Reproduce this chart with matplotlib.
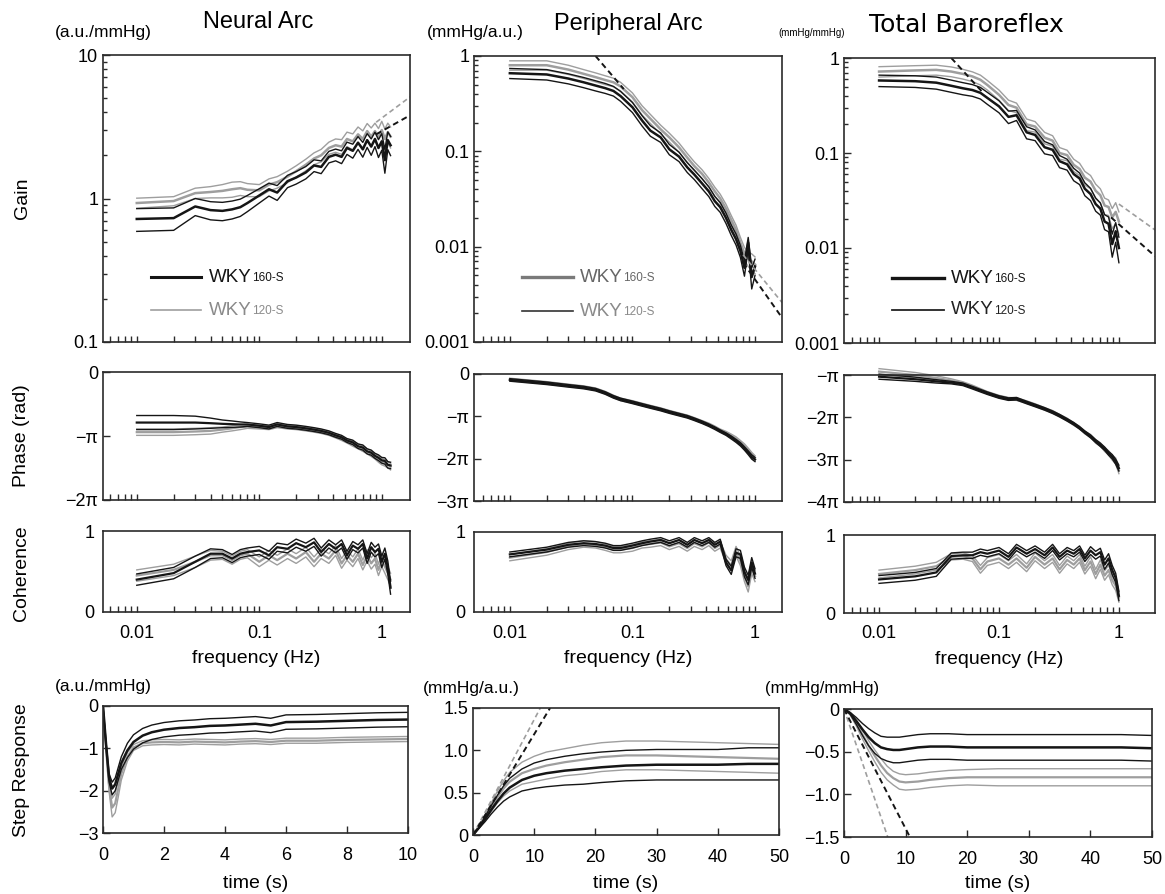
import numpy as np
import matplotlib
matplotlib.use("Agg")
import matplotlib.pyplot as plt
from matplotlib.ticker import FixedLocator, NullFormatter, NullLocator, FuncFormatter

plt.rcParams['font.family'] = ['Liberation Sans', 'DejaVu Sans']
plt.rcParams['axes.unicode_minus'] = True

W, H = 1165, 894
BLACK = '#151515'
GRAY = '#9e9e9e'

# ---------------- data ----------------
# Neural arc (frequency in Hz, gain a.u./mmHg, phase in units of pi)
f_na = [0.01, 0.02, 0.03, 0.04, 0.05, 0.06, 0.07, 0.08, 0.10, 0.12, 0.14, 0.17, 0.20, 0.24, 0.28, 0.32,
        0.37, 0.42, 0.47, 0.52, 0.58, 0.64, 0.70, 0.76, 0.82, 0.88, 0.94, 1.00, 1.06, 1.12, 1.18]
na_gain_160 = [0.72, 0.73, 0.88, 0.83, 0.82, 0.84, 0.87, 0.93, 1.05, 1.16, 1.10, 1.32, 1.40, 1.52, 1.70, 1.66,
               1.95, 2.02, 1.95, 2.25, 2.15, 2.45, 2.20, 2.55, 2.30, 2.60, 2.25, 2.50, 1.85, 2.55, 2.35]
na_gain_160_se = [0.13, 0.13, 0.12, 0.12, 0.12, 0.12, 0.12, 0.12, 0.12, 0.12, 0.13, 0.13, 0.14, 0.15, 0.16, 0.17,
                  0.18, 0.19, 0.20, 0.22, 0.24, 0.25, 0.26, 0.28, 0.30, 0.30, 0.32, 0.33, 0.35, 0.36, 0.36]
na_gain_120 = [0.93, 0.96, 1.09, 1.11, 1.13, 1.16, 1.18, 1.15, 1.14, 1.25, 1.30, 1.42, 1.55, 1.72, 1.90, 2.00,
               2.25, 2.35, 2.30, 2.60, 2.50, 2.80, 2.60, 2.95, 2.70, 2.95, 2.65, 3.00, 2.60, 2.90, 2.70]
na_gain_120_se = [0.075, 0.07, 0.09, 0.10, 0.12, 0.14, 0.13, 0.12, 0.11, 0.12, 0.12, 0.13, 0.14, 0.16, 0.18, 0.20,
                  0.22, 0.25, 0.27, 0.30, 0.32, 0.35, 0.36, 0.38, 0.40, 0.40, 0.42, 0.45, 0.45, 0.45, 0.45]
na_phase_160 = [-0.79, -0.79, -0.79, -0.80, -0.81, -0.815, -0.82, -0.82, -0.84, -0.86, -0.82, -0.85, -0.86, -0.88,
                -0.90, -0.92, -0.95, -0.99, -1.02, -1.07, -1.10, -1.16, -1.18, -1.24, -1.26, -1.31, -1.34, -1.38,
                -1.39, -1.45, -1.46]
na_phase_160_se = [0.11, 0.11, 0.10, 0.08, 0.06, 0.05, 0.04, 0.03, 0.03, 0.03, 0.03, 0.03, 0.03, 0.03, 0.03, 0.03,
                   0.03, 0.03, 0.03, 0.03, 0.035, 0.035, 0.04, 0.04, 0.04, 0.04, 0.045, 0.045, 0.05, 0.05, 0.05]
na_phase_120 = [-0.94, -0.94, -0.93, -0.92, -0.90, -0.88, -0.86, -0.85, -0.86, -0.87, -0.84, -0.86, -0.87, -0.89,
                -0.91, -0.93, -0.96, -1.00, -1.04, -1.08, -1.12, -1.16, -1.20, -1.24, -1.28, -1.32, -1.36, -1.40,
                -1.42, -1.45, -1.48]
na_phase_120_se = [0.05, 0.05, 0.05, 0.05, 0.04, 0.04, 0.04, 0.03, 0.03, 0.03, 0.03, 0.03, 0.03, 0.03, 0.03, 0.03,
                   0.03, 0.03, 0.03, 0.03, 0.04, 0.04, 0.04, 0.04, 0.04, 0.04, 0.05, 0.05, 0.05, 0.05, 0.05]
na_coh_160 = [0.40, 0.48, 0.62, 0.72, 0.72, 0.66, 0.72, 0.74, 0.76, 0.70, 0.80, 0.78, 0.85, 0.80, 0.86, 0.74,
              0.84, 0.78, 0.84, 0.70, 0.82, 0.78, 0.84, 0.66, 0.80, 0.74, 0.78, 0.62, 0.72, 0.55, 0.30]
na_coh_160_se = [0.07, 0.07, 0.07, 0.06, 0.05, 0.05, 0.05, 0.05, 0.05, 0.05, 0.05, 0.05, 0.05, 0.05, 0.05, 0.05,
                 0.05, 0.05, 0.05, 0.05, 0.05, 0.05, 0.05, 0.06, 0.06, 0.06, 0.06, 0.07, 0.07, 0.08, 0.08]
na_coh_120 = [0.45, 0.52, 0.62, 0.70, 0.70, 0.64, 0.70, 0.72, 0.62, 0.70, 0.64, 0.72, 0.66, 0.74, 0.62, 0.72,
              0.66, 0.76, 0.60, 0.70, 0.62, 0.72, 0.58, 0.70, 0.60, 0.66, 0.52, 0.64, 0.56, 0.48, 0.40]
na_coh_120_se = [0.07, 0.07, 0.07, 0.06, 0.05, 0.05, 0.05, 0.05, 0.06, 0.06, 0.06, 0.06, 0.06, 0.06, 0.06, 0.06,
                 0.06, 0.06, 0.06, 0.06, 0.06, 0.06, 0.06, 0.07, 0.07, 0.07, 0.07, 0.08, 0.08, 0.08, 0.08]
na_fit_f = [0.9, 1.7]
na_fit_160 = [2.8, 3.8]
na_fit_120 = [3.4, 5.1]

# Peripheral arc
f_pa = [0.01, 0.02, 0.03, 0.04, 0.05, 0.06, 0.07, 0.08, 0.10, 0.12, 0.14, 0.17, 0.20, 0.24, 0.28, 0.32,
        0.37, 0.42, 0.47, 0.52, 0.58, 0.64, 0.70, 0.76, 0.82, 0.88, 0.94, 1.00]
pa_gain_160 = [0.66, 0.64, 0.58, 0.53, 0.49, 0.46, 0.43, 0.38, 0.29, 0.21, 0.165, 0.14, 0.105, 0.088, 0.068, 0.057,
               0.046, 0.038, 0.030, 0.026, 0.020, 0.0150, 0.0120, 0.0090, 0.0060, 0.0110, 0.0048, 0.0062]
pa_gain_160_se = [0.08, 0.08, 0.07, 0.065, 0.06, 0.055, 0.05, 0.045, 0.035, 0.026, 0.021, 0.016, 0.013, 0.010,
                  0.008, 0.0065, 0.0055, 0.0045, 0.0036, 0.0031, 0.0025, 0.0019, 0.0016, 0.0013, 0.0011, 0.0015,
                  0.0012, 0.0012]
pa_gain_120 = [0.80, 0.80, 0.72, 0.65, 0.60, 0.56, 0.53, 0.48, 0.37, 0.27, 0.22, 0.17, 0.14, 0.11, 0.086, 0.070,
               0.058, 0.047, 0.038, 0.032, 0.025, 0.019, 0.015, 0.011, 0.0085, 0.0075, 0.0070, 0.0065]
pa_gain_120_se = [0.09, 0.09, 0.08, 0.07, 0.065, 0.06, 0.055, 0.05, 0.04, 0.03, 0.024, 0.018, 0.015, 0.012,
                  0.009, 0.0075, 0.006, 0.005, 0.004, 0.0035, 0.0028, 0.0022, 0.0018, 0.0015, 0.0013, 0.0013,
                  0.0014, 0.0013]
pa_phase_160 = [-0.14, -0.22, -0.28, -0.32, -0.37, -0.45, -0.54, -0.60, -0.67, -0.73, -0.78, -0.84, -0.90, -0.96,
                -1.01, -1.07, -1.14, -1.21, -1.28, -1.35, -1.42, -1.50, -1.58, -1.66, -1.76, -1.86, -1.96, -2.02]
pa_phase_160_se = [0.03, 0.03, 0.03, 0.03, 0.03, 0.03, 0.03, 0.03, 0.03, 0.03, 0.03, 0.03, 0.03, 0.03,
                   0.03, 0.03, 0.03, 0.03, 0.03, 0.03, 0.03, 0.035, 0.035, 0.04, 0.04, 0.045, 0.05, 0.05]
pa_phase_120 = [-0.13, -0.21, -0.27, -0.31, -0.36, -0.44, -0.53, -0.60, -0.66, -0.72, -0.77, -0.83, -0.89, -0.95,
                -1.00, -1.06, -1.13, -1.19, -1.26, -1.33, -1.39, -1.46, -1.53, -1.62, -1.70, -1.80, -1.90, -1.98]
pa_phase_120_se = [0.03, 0.03, 0.03, 0.03, 0.03, 0.03, 0.03, 0.03, 0.03, 0.03, 0.03, 0.03, 0.03, 0.03,
                   0.03, 0.03, 0.03, 0.03, 0.03, 0.03, 0.035, 0.04, 0.045, 0.05, 0.05, 0.05, 0.05, 0.05]
pa_coh_160 = [0.72, 0.78, 0.84, 0.86, 0.85, 0.83, 0.80, 0.80, 0.83, 0.86, 0.88, 0.90, 0.86, 0.90, 0.84, 0.90,
              0.86, 0.90, 0.84, 0.88, 0.62, 0.52, 0.74, 0.72, 0.50, 0.40, 0.62, 0.48]
pa_coh_160_se = [0.03, 0.03, 0.03, 0.03, 0.03, 0.03, 0.03, 0.03, 0.03, 0.03, 0.03, 0.03, 0.03, 0.03,
                 0.03, 0.03, 0.03, 0.03, 0.03, 0.03, 0.04, 0.05, 0.05, 0.05, 0.06, 0.06, 0.06, 0.06]
pa_coh_120 = [0.68, 0.75, 0.82, 0.85, 0.84, 0.81, 0.78, 0.78, 0.80, 0.84, 0.85, 0.87, 0.82, 0.86, 0.80, 0.86,
              0.82, 0.87, 0.80, 0.84, 0.66, 0.58, 0.76, 0.64, 0.45, 0.32, 0.55, 0.45]
pa_coh_120_se = [0.04, 0.04, 0.04, 0.04, 0.04, 0.04, 0.04, 0.04, 0.04, 0.04, 0.04, 0.04, 0.04, 0.04,
                 0.04, 0.04, 0.04, 0.04, 0.04, 0.04, 0.05, 0.06, 0.06, 0.06, 0.07, 0.07, 0.07, 0.07]
pa_fit_lo_f = [0.05, 0.085]
pa_fit_lo = [1.0, 0.45]
pa_fit_hi_f = [0.8, 1.66]
pa_fit_hi_160 = [0.0068, 0.0018]
pa_fit_hi_120 = [0.0082, 0.0026]

# Total baroreflex
f_ta = f_pa
ta_gain_160 = [0.58, 0.57, 0.55, 0.51, 0.48, 0.46, 0.43, 0.38, 0.31, 0.24, 0.25, 0.165, 0.155, 0.115, 0.108, 0.082,
               0.076, 0.060, 0.054, 0.042, 0.037, 0.029, 0.026, 0.019, 0.018, 0.011, 0.015, 0.010]
ta_gain_160_se = [0.08, 0.08, 0.08, 0.075, 0.07, 0.065, 0.06, 0.055, 0.045, 0.036, 0.03, 0.024, 0.02, 0.017,
                  0.014, 0.012, 0.01, 0.009, 0.0075, 0.0065, 0.0055, 0.0046, 0.0038, 0.0034, 0.0032, 0.0030,
                  0.0035, 0.0030]
ta_gain_120 = [0.72, 0.74, 0.75, 0.72, 0.68, 0.64, 0.59, 0.52, 0.41, 0.32, 0.30, 0.20, 0.19, 0.145, 0.135, 0.10,
               0.095, 0.075, 0.068, 0.055, 0.050, 0.040, 0.036, 0.028, 0.027, 0.021, 0.024, 0.019]
ta_gain_120_se = [0.09, 0.09, 0.09, 0.085, 0.08, 0.075, 0.07, 0.06, 0.05, 0.04, 0.035, 0.028, 0.024, 0.02,
                  0.017, 0.014, 0.012, 0.011, 0.01, 0.009, 0.008, 0.007, 0.006, 0.0055, 0.005, 0.005, 0.006, 0.005]
ta_phase_160 = [-1.04, -1.10, -1.15, -1.18, -1.22, -1.30, -1.37, -1.43, -1.52, -1.57, -1.56, -1.65, -1.72, -1.80,
                -1.88, -1.96, -2.06, -2.15, -2.25, -2.35, -2.45, -2.56, -2.65, -2.74, -2.85, -2.93, -3.05, -3.20]
ta_phase_160_se = [0.06, 0.05, 0.04, 0.03, 0.03, 0.03, 0.03, 0.03, 0.03, 0.03, 0.03, 0.03, 0.03, 0.03,
                   0.03, 0.03, 0.03, 0.03, 0.03, 0.03, 0.035, 0.035, 0.04, 0.04, 0.045, 0.05, 0.06, 0.07]
ta_phase_120 = [-0.92, -1.00, -1.07, -1.13, -1.19, -1.27, -1.35, -1.42, -1.51, -1.56, -1.57, -1.64, -1.71, -1.80,
                -1.87, -1.96, -2.05, -2.16, -2.24, -2.36, -2.44, -2.57, -2.64, -2.76, -2.84, -2.95, -3.03, -3.25]
ta_phase_120_se = [0.07, 0.06, 0.05, 0.04, 0.03, 0.03, 0.03, 0.03, 0.03, 0.03, 0.03, 0.03, 0.03, 0.03,
                   0.03, 0.03, 0.03, 0.03, 0.03, 0.03, 0.035, 0.04, 0.04, 0.045, 0.05, 0.06, 0.07, 0.08]
ta_coh_160 = [0.43, 0.47, 0.52, 0.73, 0.74, 0.74, 0.78, 0.76, 0.80, 0.72, 0.84, 0.76, 0.82, 0.74, 0.84, 0.72,
              0.80, 0.76, 0.82, 0.70, 0.80, 0.74, 0.78, 0.62, 0.70, 0.55, 0.45, 0.22]
ta_coh_160_se = [0.05, 0.05, 0.05, 0.04, 0.04, 0.04, 0.04, 0.04, 0.04, 0.04, 0.04, 0.04, 0.04, 0.04,
                 0.04, 0.04, 0.04, 0.04, 0.04, 0.04, 0.05, 0.05, 0.05, 0.06, 0.06, 0.06, 0.06, 0.06]
ta_coh_120 = [0.50, 0.55, 0.60, 0.72, 0.73, 0.70, 0.56, 0.66, 0.70, 0.62, 0.70, 0.58, 0.72, 0.62, 0.70, 0.56,
              0.68, 0.62, 0.70, 0.55, 0.66, 0.50, 0.62, 0.48, 0.55, 0.42, 0.35, 0.20]
ta_coh_120_se = [0.05, 0.05, 0.05, 0.04, 0.04, 0.04, 0.05, 0.05, 0.05, 0.05, 0.05, 0.05, 0.05, 0.05,
                 0.05, 0.05, 0.05, 0.05, 0.05, 0.05, 0.06, 0.06, 0.06, 0.06, 0.06, 0.06, 0.06, 0.06]
ta_fit_lo_f = [0.04, 0.075]
ta_fit_lo = [1.0, 0.42]
ta_fit_hi_f_160 = [0.86, 2.0]
ta_fit_hi_160 = [0.021, 0.0082]
ta_fit_hi_f_120 = [1.0, 2.0]
ta_fit_hi_120 = [0.029, 0.0155]

# Step responses
t_na = [0, 0.1, 0.2, 0.3, 0.4, 0.5, 0.6, 0.8, 1.0, 1.3, 1.6, 2.0, 2.5, 3.0, 3.5, 4.0, 4.5, 5.0, 5.5, 6.0,
        7.0, 8.0, 9.0, 10.0]
na_step_160 = [0, -0.9, -1.7, -1.95, -1.85, -1.6, -1.35, -1.05, -0.85, -0.70, -0.62, -0.56, -0.52, -0.50,
               -0.47, -0.46, -0.44, -0.42, -0.46, -0.38, -0.37, -0.35, -0.33, -0.32]
na_step_160_se = [0, 0.05, 0.10, 0.15, 0.15, 0.15, 0.15, 0.17, 0.17, 0.17, 0.17, 0.17, 0.17, 0.17,
                  0.17, 0.17, 0.17, 0.17, 0.17, 0.17, 0.17, 0.17, 0.17, 0.17]
na_step_120 = [0, -1.0, -1.9, -2.4, -2.3, -1.95, -1.6, -1.2, -0.98, -0.88, -0.86, -0.85, -0.86, -0.84,
               -0.85, -0.86, -0.84, -0.83, -0.85, -0.82, -0.82, -0.80, -0.79, -0.78]
na_step_120_se = [0, 0.05, 0.12, 0.22, 0.22, 0.20, 0.15, 0.10, 0.07, 0.06, 0.06, 0.06, 0.06, 0.06,
                  0.06, 0.06, 0.06, 0.06, 0.06, 0.06, 0.06, 0.06, 0.06, 0.06]

t_pa = [0, 1, 2, 3, 4, 5, 6, 8, 10, 12, 15, 18, 21, 25, 30, 35, 40, 45, 50]
pa_step_160 = [0, 0.09, 0.19, 0.30, 0.40, 0.49, 0.56, 0.65, 0.70, 0.73, 0.76, 0.78, 0.80, 0.82, 0.83, 0.83,
               0.83, 0.84, 0.84]
pa_step_160_se = [0, 0.01, 0.03, 0.05, 0.07, 0.09, 0.11, 0.13, 0.15, 0.16, 0.17, 0.18, 0.18, 0.18, 0.18, 0.18,
                  0.18, 0.19, 0.19]
pa_step_120 = [0, 0.10, 0.21, 0.33, 0.45, 0.55, 0.63, 0.73, 0.78, 0.82, 0.86, 0.89, 0.92, 0.94, 0.94, 0.93,
               0.92, 0.91, 0.90]
pa_step_120_se = [0, 0.01, 0.03, 0.05, 0.07, 0.09, 0.11, 0.13, 0.15, 0.16, 0.16, 0.17, 0.17, 0.17, 0.17, 0.17,
                  0.17, 0.17, 0.17]
pa_step_fit_160 = ([0, 12.6], [0, 1.5])
pa_step_fit_120 = ([0, 11.0], [0, 1.5])

t_ta = [0, 1, 2, 3, 4, 5, 6, 7, 8, 9, 10, 12, 14, 17, 20, 25, 30, 35, 40, 45, 50]
ta_step_160 = [0, -0.05, -0.14, -0.24, -0.33, -0.40, -0.45, -0.47, -0.48, -0.48, -0.47, -0.45, -0.44, -0.44,
               -0.45, -0.45, -0.45, -0.45, -0.45, -0.45, -0.46]
ta_step_160_se = [0, 0.01, 0.04, 0.07, 0.10, 0.12, 0.13, 0.14, 0.15, 0.15, 0.15, 0.15, 0.15, 0.15, 0.15,
                  0.15, 0.15, 0.15, 0.15, 0.15, 0.15]
ta_step_120 = [0, -0.06, -0.17, -0.30, -0.43, -0.55, -0.66, -0.75, -0.81, -0.85, -0.86, -0.85, -0.83, -0.81,
               -0.80, -0.80, -0.80, -0.80, -0.80, -0.80, -0.80]
ta_step_120_se = [0, 0.01, 0.03, 0.05, 0.06, 0.07, 0.08, 0.08, 0.08, 0.09, 0.09, 0.09, 0.09, 0.09, 0.09,
                  0.10, 0.10, 0.10, 0.10, 0.10, 0.10]
ta_step_fit_160 = ([0, 10.7], [0, -1.5])
ta_step_fit_120 = ([0, 7.1], [0, -1.5])

# ---------------- figure ----------------
fig = plt.figure(figsize=(W / 100, H / 100), dpi=100)
fig.patch.set_facecolor('white')

TICK_FS = 13
LAB_FS = 14


def add_ax(x0, y0, x1, y1):
    ax = fig.add_axes([x0 / W, 1 - y1 / H, (x1 - x0) / W, (y1 - y0) / H])
    for s in ax.spines.values():
        s.set_color('#2a2a2a')
        s.set_linewidth(1.2)
    ax.tick_params(which='both', direction='in', top=False, right=False,
                   labelsize=TICK_FS, color='#2a2a2a', width=1.0)
    ax.tick_params(which='major', length=5)
    ax.tick_params(which='minor', length=3)
    return ax


def bands(ax, x, mean, se, color, lw_mean=1.8, lw_se=1.0, clip=True, z=2):
    m = np.asarray(mean, dtype=float)
    s = np.asarray(se, dtype=float)
    for y, lw in ((m + s, lw_se), (m - s, lw_se), (m, lw_mean)):
        ax.plot(x, y, color=color, lw=lw, clip_on=clip, zorder=z)


freq_ticks = [k * d for d in (0.001, 0.01, 0.1) for k in range(1, 10)] + [1.0]
freq_ticks = [v for v in freq_ticks if v >= 0.0059]


def freq_axis(ax, xlim, labels):
    ax.set_xscale('log')
    ax.set_xlim(*xlim)
    ax.xaxis.set_major_locator(FixedLocator(freq_ticks))
    ax.xaxis.set_minor_locator(NullLocator())
    ax.tick_params(axis='x', which='major', length=4, pad=9)
    if labels:
        ax.xaxis.set_major_formatter(FuncFormatter(
            lambda v, p: {0.01: '0.01', 0.1: '0.1', 1.0: '1'}.get(round(v, 4), '')))
        ax.set_xlabel('frequency (Hz)', fontsize=LAB_FS, labelpad=6)
    else:
        ax.xaxis.set_major_formatter(NullFormatter())


def gain_axis(ax, ylim, ticks, labels):
    ax.set_yscale('log')
    ax.set_ylim(*ylim)
    ax.set_yticks(ticks)
    ax.set_yticklabels(labels)
    ax.yaxis.set_minor_formatter(NullFormatter())


def legend(ax, entries):
    for k, (y, lcol, lw, tcol) in enumerate(entries):
        ax.plot([0.155, 0.32], [y, y], transform=ax.transAxes, color=lcol, lw=lw, clip_on=False)
        t = ax.text(0.345, y, 'WKY', transform=ax.transAxes, fontsize=13.5, color=tcol,
                    va='center', ha='left')
        sub = '160-S' if k == 0 else '120-S'
        ax.annotate(sub, xy=(1.0, 0.08), xycoords=t, fontsize=8.5, color=tcol, va='bottom', ha='left')


cols = [
    dict(x0=103, x1=410, gy=(55, 342), py=(372, 500), cy=(531, 612), sx=(103, 408), sy=(706, 833),
         xlim=(0.0053, 1.7)),
    dict(x0=474, x1=782, gy=(56, 342), py=(374, 501), cy=(532, 612), sx=(473, 779), sy=(708, 835),
         xlim=(0.0051, 1.66)),
    dict(x0=844, x1=1155, gy=(58, 343), py=(375, 502), cy=(535, 613), sx=(844, 1152), sy=(709, 837),
         xlim=(0.0051, 2.0)),
]

# ---- gain row ----
c = cols[0]
ax = add_ax(c['x0'], c['gy'][0], c['x1'], c['gy'][1])
bands(ax, f_na, na_gain_120, na_gain_120_se, GRAY)
bands(ax, f_na, na_gain_160, na_gain_160_se, BLACK)
ax.plot(na_fit_f, na_fit_120, color=GRAY, lw=1.2, ls=(0, (3, 2)))
ax.plot(na_fit_f, na_fit_160, color=BLACK, lw=1.4, ls=(0, (3, 2)))
freq_axis(ax, c['xlim'], False)
gain_axis(ax, (0.1, 10), [0.1, 1, 10], ['0.1', '1', '10'])
legend(ax, [(0.226, BLACK, 2.2, BLACK), (0.111, GRAY, 1.2, '#8a8a8a')])

c = cols[1]
ax = add_ax(c['x0'], c['gy'][0], c['x1'], c['gy'][1])
bands(ax, f_pa, pa_gain_120, pa_gain_120_se, GRAY)
bands(ax, f_pa, pa_gain_160, pa_gain_160_se, BLACK)
ax.plot(pa_fit_lo_f, pa_fit_lo, color=BLACK, lw=1.4, ls=(0, (3, 2)))
ax.plot(pa_fit_hi_f, pa_fit_hi_120, color=GRAY, lw=1.2, ls=(0, (3, 2)))
ax.plot(pa_fit_hi_f, pa_fit_hi_160, color=BLACK, lw=1.4, ls=(0, (3, 2)))
freq_axis(ax, c['xlim'], False)
gain_axis(ax, (0.001, 1), [0.001, 0.01, 0.1, 1], ['0.001', '0.01', '0.1', '1'])
legend(ax, [(0.227, '#7a7a7a', 2.4, '#666666'), (0.108, '#333333', 1.2, '#8a8a8a')])

c = cols[2]
ax = add_ax(c['x0'], c['gy'][0], c['x1'], c['gy'][1])
bands(ax, f_ta, ta_gain_120, ta_gain_120_se, GRAY)
bands(ax, f_ta, ta_gain_160, ta_gain_160_se, BLACK)
ax.plot(ta_fit_lo_f, ta_fit_lo, color=BLACK, lw=1.4, ls=(0, (3, 2)))
ax.plot(ta_fit_hi_f_120, ta_fit_hi_120, color=GRAY, lw=1.2, ls=(0, (3, 2)))
ax.plot(ta_fit_hi_f_160, ta_fit_hi_160, color=BLACK, lw=1.4, ls=(0, (3, 2)))
freq_axis(ax, c['xlim'], False)
gain_axis(ax, (0.001, 1), [0.001, 0.01, 0.1, 1], ['0.001', '0.01', '0.1', '1'])
legend(ax, [(0.228, BLACK, 2.4, BLACK), (0.116, '#222222', 1.3, '#222222')])

# ---- phase row ----
phase_specs = [
    (f_na, na_phase_160, na_phase_160_se, na_phase_120, na_phase_120_se, (-2, 0), [0, -1, -2],
     ['0', '\u2212\u03c0', '\u22122\u03c0']),
    (f_pa, pa_phase_160, pa_phase_160_se, pa_phase_120, pa_phase_120_se, (-3, 0), [0, -1, -2, -3],
     ['0', '\u2212\u03c0', '\u22122\u03c0', '\u22123\u03c0']),
    (f_ta, ta_phase_160, ta_phase_160_se, ta_phase_120, ta_phase_120_se, (-4, -1), [-1, -2, -3, -4],
     ['\u2212\u03c0', '\u22122\u03c0', '\u22123\u03c0', '\u22124\u03c0']),
]
for i, (f, m1, s1, m2, s2, yl, yt, ylab) in enumerate(phase_specs):
    c = cols[i]
    ax = add_ax(c['x0'], c['py'][0], c['x1'], c['py'][1])
    bands(ax, f, m2, s2, GRAY, lw_mean=1.6, clip=(i != 2))
    bands(ax, f, m1, s1, BLACK, lw_mean=1.6, clip=(i != 2))
    freq_axis(ax, c['xlim'], False)
    ax.set_ylim(*yl)
    ax.set_yticks(yt)
    ax.set_yticklabels(ylab)

# ---- coherence row ----
coh_specs = [
    (f_na, na_coh_160, na_coh_160_se, na_coh_120, na_coh_120_se),
    (f_pa, pa_coh_160, pa_coh_160_se, pa_coh_120, pa_coh_120_se),
    (f_ta, ta_coh_160, ta_coh_160_se, ta_coh_120, ta_coh_120_se),
]
for i, (f, m1, s1, m2, s2) in enumerate(coh_specs):
    c = cols[i]
    ax = add_ax(c['x0'], c['cy'][0], c['x1'], c['cy'][1])
    bands(ax, f, m2, s2, GRAY, lw_mean=1.6)
    bands(ax, f, m1, s1, BLACK, lw_mean=1.6)
    freq_axis(ax, c['xlim'], True)
    ax.set_ylim(0, 1)
    ax.set_yticks([0, 1])
    ax.set_yticklabels(['0', '1'])
    ax.tick_params(axis='y', length=0, pad=6)

# ---- step response row ----
c = cols[0]
ax = add_ax(c['sx'][0], c['sy'][0], c['sx'][1], c['sy'][1])
bands(ax, t_na, na_step_120, na_step_120_se, GRAY, lw_mean=1.6)
bands(ax, t_na, na_step_160, na_step_160_se, BLACK, lw_mean=1.8)
ax.set_xlim(0, 10)
ax.set_ylim(-3, 0)
ax.set_xticks([0, 2, 4, 6, 8, 10])
ax.set_yticks([0, -1, -2, -3])
ax.set_yticklabels(['0', '\u22121', '\u22122', '\u22123'])
ax.tick_params(axis='x', pad=10)

c = cols[1]
ax = add_ax(c['sx'][0], c['sy'][0], c['sx'][1], c['sy'][1])
bands(ax, t_pa, pa_step_120, pa_step_120_se, GRAY, lw_mean=1.6)
bands(ax, t_pa, pa_step_160, pa_step_160_se, BLACK, lw_mean=1.8)
ax.plot(*pa_step_fit_120, color=GRAY, lw=1.2, ls=(0, (3, 2)))
ax.plot(*pa_step_fit_160, color=BLACK, lw=1.4, ls=(0, (3, 2)))
ax.set_xlim(0, 50)
ax.set_ylim(0, 1.5)
ax.set_xticks([0, 10, 20, 30, 40, 50])
ax.set_yticks([0, 0.5, 1.0, 1.5])
ax.set_yticklabels(['0', '0.5', '1.0', '1.5'])
ax.tick_params(axis='x', pad=10)

c = cols[2]
ax = add_ax(c['sx'][0], c['sy'][0], c['sx'][1], c['sy'][1])
bands(ax, t_ta, ta_step_120, ta_step_120_se, GRAY, lw_mean=1.6)
bands(ax, t_ta, ta_step_160, ta_step_160_se, BLACK, lw_mean=1.8)
ax.plot(*ta_step_fit_120, color=GRAY, lw=1.2, ls=(0, (3, 2)))
ax.plot(*ta_step_fit_160, color=BLACK, lw=1.4, ls=(0, (3, 2)))
ax.set_xlim(0, 50)
ax.set_ylim(-1.5, 0)
ax.set_xticks([0, 10, 20, 30, 40, 50])
ax.set_yticks([0, -0.5, -1.0, -1.5])
ax.set_yticklabels(['0', '\u22120.5', '\u22121.0', '\u22121.5'])
ax.tick_params(axis='x', pad=10)

for c in cols:
    fig.text((c['sx'][0] + c['sx'][1]) / 2 / W, 1 - 884 / H, 'time (s)', fontsize=LAB_FS,
             ha='center', va='center')


def ftext(x, y, s, **kw):
    fig.text(x / W, 1 - y / H, s, **kw)


# titles and units
ftext(258, 22, 'Neural Arc', fontsize=17, ha='center', va='center')
ftext(628, 24, 'Peripheral Arc', fontsize=17, ha='center', va='center')
ftext(966, 25, 'Total Baroreflex', fontsize=18, ha='center', va='center',
      family=['DejaVu Sans'])
ftext(812, 33, '(mmHg/mmHg)', fontsize=7, ha='center', va='center')
ftext(103, 33, '(a.u./mmHg)', fontsize=12.5, ha='center', va='center')
ftext(475, 33, '(mmHg/a.u.)', fontsize=12.5, ha='center', va='center')
ftext(103, 686, '(a.u./mmHg)', fontsize=12.5, ha='center', va='center')
ftext(471, 688, '(mmHg/a.u.)', fontsize=12.5, ha='center', va='center')
ftext(822, 689, '(mmHg/mmHg)', fontsize=12, ha='center', va='center')

# row labels
ftext(22, 198, 'Gain', fontsize=LAB_FS, rotation=90, ha='center', va='center')
ftext(22, 436, 'Phase (rad)', fontsize=LAB_FS, rotation=90, ha='center', va='center')
ftext(22, 573, 'Coherence', fontsize=LAB_FS, rotation=90, ha='center', va='center')
ftext(22, 770, 'Step Response', fontsize=LAB_FS, rotation=90, ha='center', va='center')

fig.savefig('out.png', dpi=100, facecolor='white')
